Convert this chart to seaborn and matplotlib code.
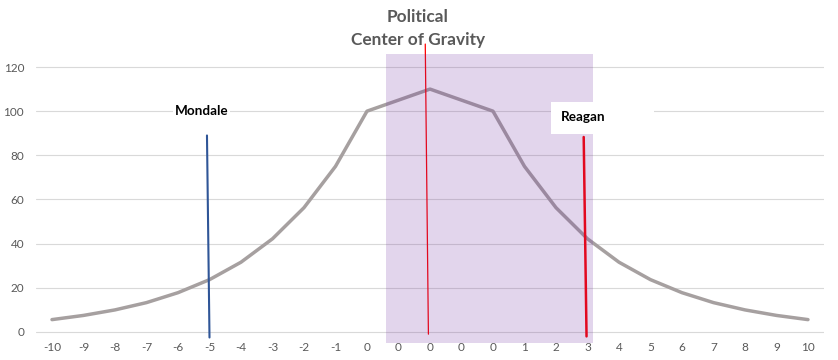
import matplotlib
matplotlib.use('Agg')
import matplotlib.pyplot as plt
from matplotlib.patches import Rectangle
import numpy as np
import seaborn as sns

# category labels along the x axis (the centre is split into five "0" slots)
x_labels = ['-10', '-9', '-8', '-7', '-6', '-5', '-4', '-3', '-2', '-1',
            '0', '0', '0', '0', '0',
            '1', '2', '3', '4', '5', '6', '7', '8', '9', '10']
# voter distribution curve
voters = [5.6, 7.5, 10.0, 13.3, 17.8, 23.7, 31.6, 42.2, 56.3, 75.0,
          100, 105, 110, 105, 100,
          75.0, 56.3, 42.2, 31.6, 23.7, 17.8, 13.3, 10.0, 7.5, 5.6]

# candidate markers (category position, value) top and bottom
mondale_x = [4.92, 5.0]
mondale_y = [89, -2.5]
center_x = [11.85, 11.95]
center_y = [130.4, -1]
reagan_x = [16.88, 16.97]
reagan_y = [88.3, -2]

# shaded political centre band
band_x = [10.6, 17.17]
band_y = [-5, 125.9]

y_ticks = [0, 20, 40, 60, 80, 100, 120]

sns.set_style('white')
plt.rcParams['font.family'] = ['Lato', 'DejaVu Sans']

fig = plt.figure(figsize=(8.38, 3.6), dpi=100)
ax = fig.add_axes([0.04326, 0.0717, 0.9397, 0.7483])

pos = np.arange(len(x_labels))
sns.lineplot(x=pos, y=voters, ax=ax, color='#a6a0a0', lw=2.5, zorder=3)

ax.plot(mondale_x, mondale_y, color='#2f5597', lw=1.5, clip_on=False, zorder=4)
ax.plot(center_x, center_y, color='#ff0000', lw=0.9, clip_on=False, zorder=4)
ax.plot(reagan_x, reagan_y, color='#ff0000', lw=1.8, clip_on=False, zorder=4)

ax.add_patch(Rectangle((band_x[0], band_y[0]), band_x[1] - band_x[0], band_y[1] - band_y[0],
                       facecolor='#7030a0', alpha=0.2, lw=0, clip_on=False, zorder=5))

# white label box behind Reagan
ax.add_patch(Rectangle((15.84, 89.7), 3.27, 14.6, facecolor='white', lw=0,
                       clip_on=False, zorder=6))
ax.text(16.86, 97.5, 'Reagan', ha='center', va='center', fontsize=9.7,
        fontweight='bold', color='black', zorder=7)
ax.text(4.75, 100.3, 'Mondale', ha='center', va='center', fontsize=9.7,
        fontweight='bold', color='black', zorder=7,
        bbox=dict(facecolor='white', edgecolor='none', pad=1.5))

fig.text(418 / 838, 1 - 17 / 360, 'Political', ha='center', va='center',
         fontsize=12.4, fontweight='bold', color='#595959')
fig.text(418 / 838, 1 - 40.5 / 360, 'Center of Gravity', ha='center', va='center',
         fontsize=12.4, fontweight='bold', color='#595959')

ax.set_xlim(-0.5, len(x_labels) - 0.5)
ax.set_ylim(-1, 121)
ax.set_xticks(pos)
ax.set_xticklabels(x_labels)
ax.set_yticks(y_ticks)
ax.tick_params(axis='both', length=0, labelsize=8.5, labelcolor='#595959')
ax.tick_params(axis='y', pad=8.7)
ax.tick_params(axis='x', pad=5.5)
ax.yaxis.grid(True, color='#d9d9d9', lw=0.8)
ax.xaxis.grid(False)
for s in ax.spines.values():
    s.set_visible(False)
ax.set_xlabel('')
ax.set_ylabel('')

fig.savefig('out.png', dpi=100)
